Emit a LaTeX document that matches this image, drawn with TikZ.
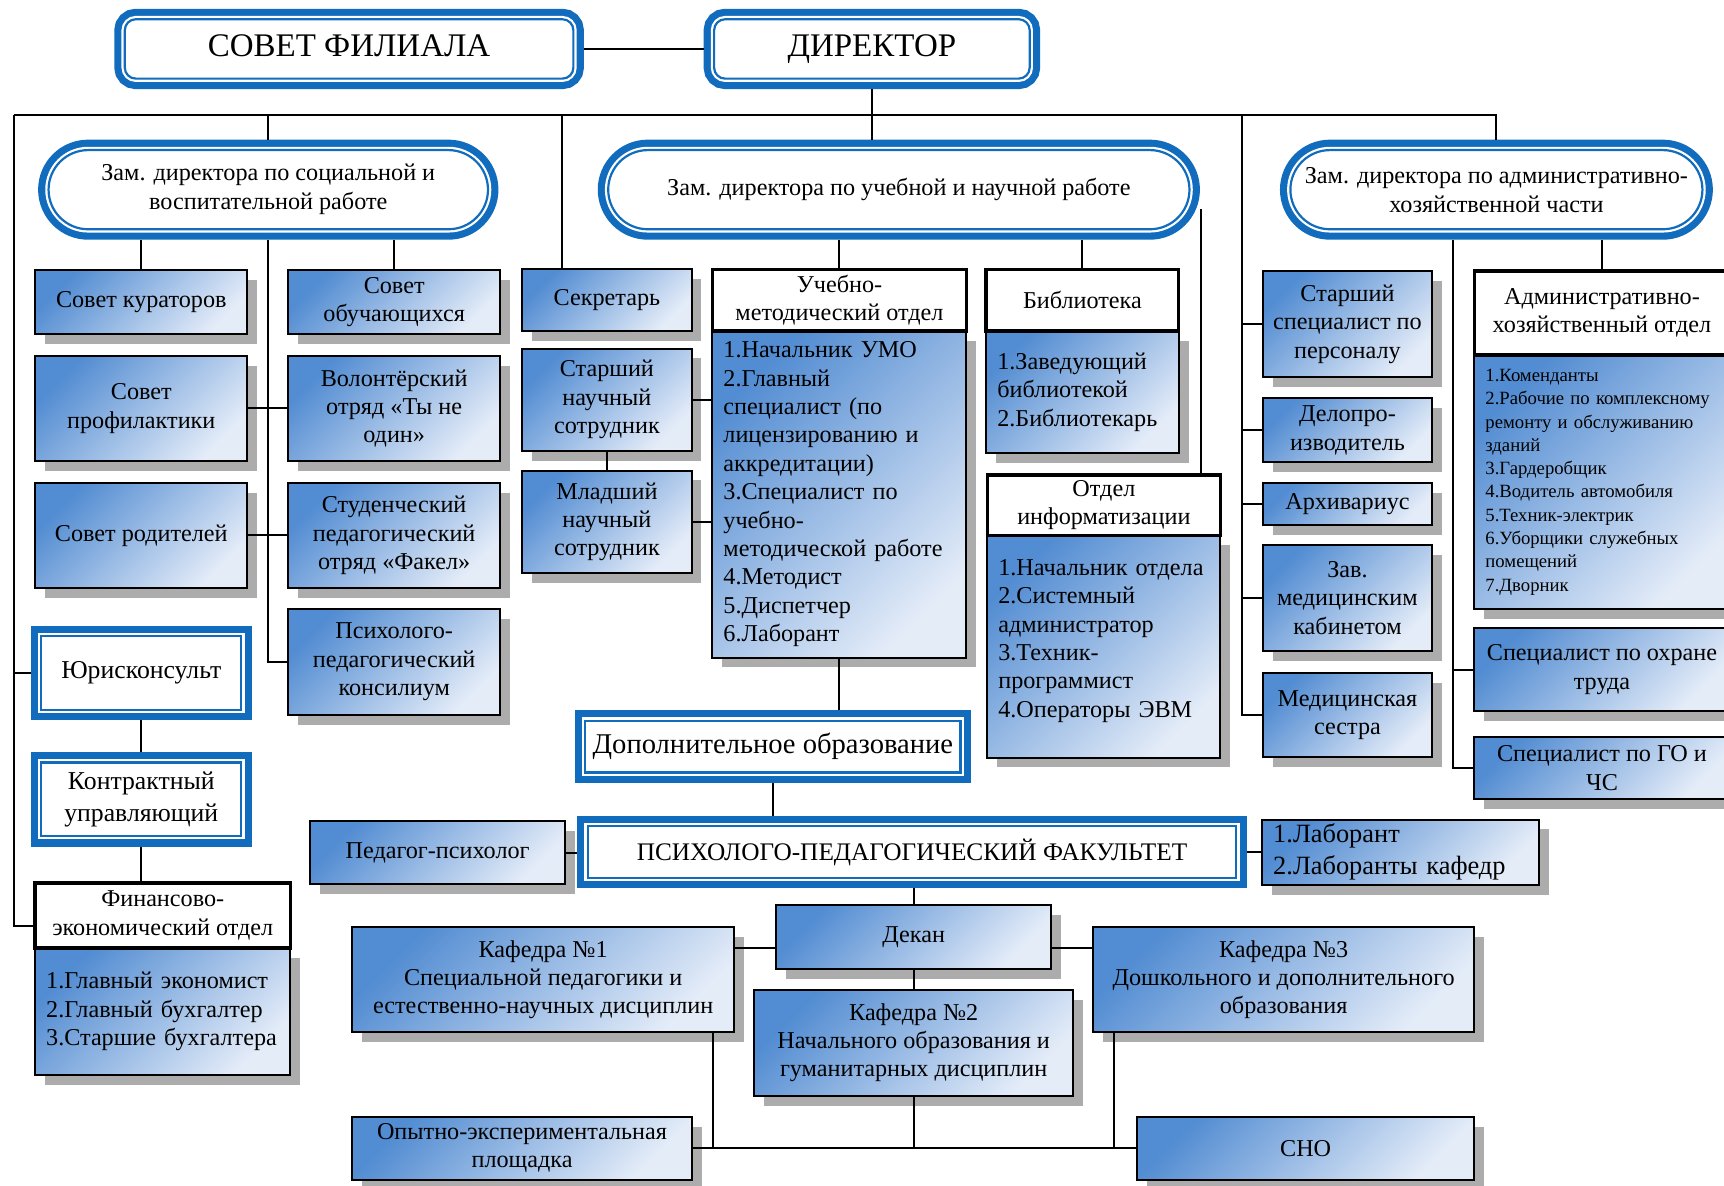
\documentclass[tikz,border=0pt]{standalone}
\usepackage{fontspec}
\setmainfont{Liberation Serif}
\usepackage{tikz}
\usetikzlibrary{shapes.misc}
\usetikzlibrary{shadows}
\usepackage{xcolor}
\definecolor{ColFrame}{RGB}{18,108,189}
\definecolor{ColBoxA}{RGB}{82,140,210}
\definecolor{ColBoxB}{RGB}{228,236,248}
\definecolor{ColShadow}{RGB}{172,172,172}
\newcommand{\TxtBox}{\fontsize{11}{12.9}\selectfont}
\newcommand{\TxtList}{\fontsize{8.5}{10.6}\selectfont}
\newcommand{\TxtZam}{\fontsize{11}{13.2}\selectfont}
\newcommand{\TxtJur}{\fontsize{11.7}{14.5}\selectfont}
\newcommand{\TxtDop}{\fontsize{13}{15}\selectfont}
\newcommand{\TxtFak}{\fontsize{11.5}{13}\selectfont}
\newcommand{\TxtLab}{\fontsize{12}{14.5}\selectfont}
\newcommand{\TxtTop}{\fontsize{15}{17}\selectfont}
\tikzstyle{BoxBlue}=[draw=black,line width=0.9pt,top color=ColBoxA,bottom color=ColBoxB,shading angle=45,
drop shadow={shadow xshift=4.5pt,shadow yshift=-4.5pt,fill=ColShadow,opacity=1},align=center,inner sep=2pt,font=\TxtBox]
\tikzstyle{BoxList}=[BoxBlue,align=left,inner xsep=5pt]
\tikzstyle{BoxHead}=[draw=black,line width=1.6pt,fill=white,align=center,inner sep=2pt,font=\TxtBox]
\tikzstyle{FrameBox}=[draw=ColFrame,line width=1pt,fill=white,outer sep=4.75pt,align=center,
preaction={draw=ColFrame,line width=9.5pt},preaction={draw=white,line width=3pt}]
\tikzstyle{FrameTop}=[FrameBox,rounded corners=5pt,minimum height=27pt,font=\TxtTop,text height=0.68em,text depth=0.02em]
\tikzstyle{FrameRound}=[FrameBox,rounded rectangle,font=\TxtZam]
\tikzstyle{EdgeOrg}=[black,line width=0.9pt]

\begin{document}
\begin{tikzpicture}[x=0.5pt,y=-0.5pt]
\path[use as bounding box,fill=white](0,0)rectangle(1568,1078);
\clip(0,0)rectangle(1568,1078);
% top level
\node[FrameTop,minimum width=204pt](sovet)at(317.5,44.5){СОВЕТ ФИЛИАЛА};
\node[FrameTop,minimum width=143.5pt](dir)at(793,44.5){ДИРЕКТОР};
\node[FrameRound,minimum width=206.5pt,minimum height=36pt](zamSoc)at(244,172.5){Зам. директора по социальной и\\воспитательной работе};
\node[FrameRound,minimum width=271pt,minimum height=36pt](zamUch)at(817.5,172.5){Зам. директора по учебной и научной работе};
\node[FrameRound,minimum width=186.5pt,minimum height=36pt](zamAdm)at(1361,172.5){Зам. директора по административно-\\хозяйственной части};
% social and educational work
\node[BoxBlue,minimum width=96.5pt,minimum height=29pt](kurat)at(128.5,275){Совет кураторов};
\node[BoxBlue,minimum width=96.5pt,minimum height=29pt](obuch)at(358.5,275){Совет\\обучающихся};
\node[BoxBlue,minimum width=96.5pt,minimum height=47.5pt](profil)at(128.5,371.5){Совет\\профилактики};
\node[BoxBlue,minimum width=96.5pt,minimum height=47.5pt](volont)at(358.5,371.5){Волонтёрский\\отряд «Ты не\\один»};
\node[BoxBlue,minimum width=96.5pt,minimum height=47.5pt](rodit)at(128.5,487){Совет родителей};
\node[BoxBlue,minimum width=96.5pt,minimum height=47.5pt](fakel)at(358.5,487){Студенческий\\педагогический\\отряд «Факел»};
\node[BoxBlue,minimum width=96.5pt,minimum height=48pt](konsil)at(358.5,602){Психолого-\\педагогический\\консилиум};
\node[FrameBox,minimum width=91pt,minimum height=33.5pt,font=\TxtJur](jur)at(128.5,612){Юрисконсульт};
\node[FrameBox,minimum width=91pt,minimum height=33.5pt,font=\TxtJur](kontr)at(128.5,727){Контрактный\\управляющий};
\node[BoxList,minimum width=116pt,minimum height=58pt,text width=106pt](finB)at(148,920){1.Главный~экономист\\2.Главный~бухгалтер\\3.Старшие~бухгалтера};
\node[BoxHead,minimum width=116pt,minimum height=29.5pt](finH)at(148,832.5){Финансово-\\экономический отдел};
% educational and scientific work
\node[BoxBlue,minimum width=77pt,minimum height=28pt](sekr)at(552,273){Секретарь};
\node[BoxBlue,minimum width=77pt,minimum height=46.5pt](snsr)at(552,363.5){Старший\\научный\\сотрудник};
\node[BoxBlue,minimum width=77pt,minimum height=46.5pt](mnsr)at(552,474.5){Младший\\научный\\сотрудник};
\node[BoxList,minimum width=115.5pt,minimum height=148.5pt,text width=105.5pt](umoB)at(763.5,449.5){1.Начальник~УМО\\2.Главный\\специалист~(по\\лицензированию~и\\аккредитации)\\3.Специалист~по\\учебно-\\методической~работе\\4.Методист\\5.Диспетчер\\6.Лаборант};
\node[BoxHead,minimum width=115.5pt,minimum height=28pt](umoH)at(763.5,273){Учебно-\\методический отдел};
\node[BoxList,minimum width=87.5pt,minimum height=55.5pt,text width=77.5pt](libB)at(984.5,356.5){1.Заведующий\\библиотекой\\2.Библиотекарь};
\node[BoxHead,minimum width=87.5pt,minimum height=28pt](libH)at(984.5,273){Библиотека};
\node[BoxList,minimum width=106pt,minimum height=101pt,text width=96pt,text depth=72pt](infB)at(1004,588){1.Начальник~отдела\\2.Системный\\администратор\\3.Техник-\\программист\\4.Операторы~ЭВМ};
\node[BoxHead,minimum width=106pt,minimum height=27.5pt](infH)at(1004,459.5){Отдел\\информатизации};
\node[FrameBox,minimum width=167.5pt,minimum height=23.5pt,font=\TxtDop](dop)at(703,679){Дополнительное образование};
\node[FrameBox,minimum width=295pt,minimum height=23.5pt,font=\TxtFak](fak)at(829.5,775){ПСИХОЛОГО-ПЕДАГОГИЧЕСКИЙ ФАКУЛЬТЕТ};
\node[BoxBlue,minimum width=116pt,minimum height=28.5pt](pedps)at(398,775.5){Педагог-психолог};
\node[BoxList,minimum width=126pt,minimum height=29pt,text width=116pt,font=\TxtLab](labor)at(1274,775){1.Лаборант\\2.Лаборанты~кафедр};
\node[BoxBlue,minimum width=125pt,minimum height=29pt](dekan)at(831,852){Декан};
\node[BoxBlue,minimum width=174pt,minimum height=48pt](kaf1)at(494,891){Кафедра №1\\Специальной педагогики и\\естественно-научных дисциплин};
\node[BoxBlue,minimum width=145pt,minimum height=48.25pt](kaf2)at(831,948.3){Кафедра №2\\Начального образования и\\гуманитарных дисциплин};
\node[BoxBlue,minimum width=173.5pt,minimum height=48pt](kaf3)at(1167.5,891){Кафедра №3\\Дошкольного и дополнительного\\образования};
\node[BoxBlue,minimum width=154.75pt,minimum height=28.75pt](opyt)at(474.8,1044.3){Опытно-экспериментальная\\площадка};
\node[BoxBlue,minimum width=153.5pt,minimum height=28.75pt](sno)at(1187.5,1044.3){СНО};
% administrative part
\node[BoxBlue,minimum width=77pt,minimum height=48.25pt](pers)at(1225.5,294.8){Старший\\специалист по\\персоналу};
\node[BoxBlue,minimum width=77pt,minimum height=29.25pt](delo)at(1225.5,391.3){Делопро-\\изводитель};
\node[BoxBlue,minimum width=77pt,minimum height=19.25pt](arch)at(1225.5,458.3){Архивариус};
\node[BoxBlue,minimum width=77pt,minimum height=48pt](zavmed)at(1225.5,543.8){Зав.\\медицинским\\кабинетом};
\node[BoxBlue,minimum width=77pt,minimum height=38.5pt](medses)at(1225.5,650.3){Медицинская\\сестра};
\node[BoxList,minimum width=116pt,minimum height=115.5pt,text width=106pt,font=\TxtList](ahoB)at(1457,438.5){1.Коменданты\\2.Рабочие~по~комплексному\\ремонту~и~обслуживанию\\зданий\\3.Гардеробщик\\4.Водитель~автомобиля\\5.Техник-электрик\\6.Уборщики~служебных\\помещений\\7.Дворник};
\node[BoxHead,minimum width=116pt,minimum height=38.25pt](ahoH)at(1457,284.8){Административно-\\хозяйственный отдел};
\node[BoxBlue,minimum width=116pt,minimum height=38pt](ohr)at(1457,609){Специалист по охране\\труда};
\node[BoxBlue,minimum width=116pt,minimum height=28.5pt](go)at(1457,698.5){Специалист по ГО и\\ЧС};
% bus points
\coordinate(busL)at(13,104.6);
\coordinate(busR)at(1361,104.6);
\coordinate(secBus)at(511,104.6);
\coordinate(admBus)at(1130,104.6);
\coordinate(uchR)at(1092,190);
\coordinate(ohrBus)at(1321.5,218);
\coordinate(finCon)at([yshift=-5pt]finH.west);
\coordinate(dkL)at([yshift=-5pt]dekan.west);
\coordinate(dkR)at([yshift=-5pt]dekan.east);
\coordinate(kfL)at([xshift=-10pt]kaf1.south east);
\coordinate(kfR)at([xshift=10pt]kaf3.south west);
% connectors
\draw[EdgeOrg](sovet.east)--(dir.west);
\draw[EdgeOrg](dir.south)--(dir.south|-zamUch.north);
\draw[EdgeOrg](busL)--(busR)--(zamAdm.north);
\draw[EdgeOrg](zamSoc.north|-busL)--(zamSoc.north);
\draw[EdgeOrg](secBus)--(secBus|-sekr.north);
\draw[EdgeOrg](busL)|-(finCon);
\draw[EdgeOrg](busL|-jur.west)--(jur.west);
\draw[EdgeOrg](admBus)|-(medses.west);
\foreach\n in{pers,delo,arch,zavmed}{\draw[EdgeOrg](admBus|-\n.west)--(\n.west);}
\draw[EdgeOrg](zamSoc.south-|kurat.north)--(kurat.north);
\draw[EdgeOrg](zamSoc.south-|obuch.north)--(obuch.north);
\draw[EdgeOrg](zamSoc.south)|-(konsil.west);
\draw[EdgeOrg](profil.east)--(volont.west);
\draw[EdgeOrg](rodit.east)--(fakel.west);
\draw[EdgeOrg](jur.south)--(kontr.north);
\draw[EdgeOrg](kontr.south)--(kontr.south|-finH.north);
\draw[EdgeOrg](zamUch.south-|umoH.north)--(umoH.north);
\draw[EdgeOrg](zamUch.south-|libH.north)--(libH.north);
\draw[EdgeOrg](uchR)--(uchR|-infH.north);
\draw[EdgeOrg](snsr.east)--(snsr.east-|umoB.west);
\draw[EdgeOrg](mnsr.east)--(mnsr.east-|umoB.west);
\draw[EdgeOrg](snsr.south)--(mnsr.north);
\draw[EdgeOrg](umoB.south)--(umoB.south|-dop.north);
\draw[EdgeOrg](dop.south)--(dop.south|-fak.north);
\draw[EdgeOrg](pedps.east)--(pedps.east-|fak.west);
\draw[EdgeOrg](fak.east)--(fak.east-|labor.west);
\draw[EdgeOrg](dekan.north|-fak.south)--(dekan.north);
\draw[EdgeOrg](dkL)--(dkL-|kaf1.east);
\draw[EdgeOrg](dkR)--(dkR-|kaf3.west);
\draw[EdgeOrg](dekan.south)--(kaf2.north);
\draw[EdgeOrg](opyt.east)--(opyt.east-|sno.west);
\draw[EdgeOrg](kfL)--(kfL|-opyt.east);
\draw[EdgeOrg](kaf2.south)--(kaf2.south|-opyt.east);
\draw[EdgeOrg](kfR)--(kfR|-opyt.east);
\draw[EdgeOrg](zamAdm.south-|ahoH.north)--(ahoH.north);
\draw[EdgeOrg](ohrBus)|-(go.west);
\draw[EdgeOrg](ohrBus|-ohr.west)--(ohr.west);
\end{tikzpicture}
\end{document}
